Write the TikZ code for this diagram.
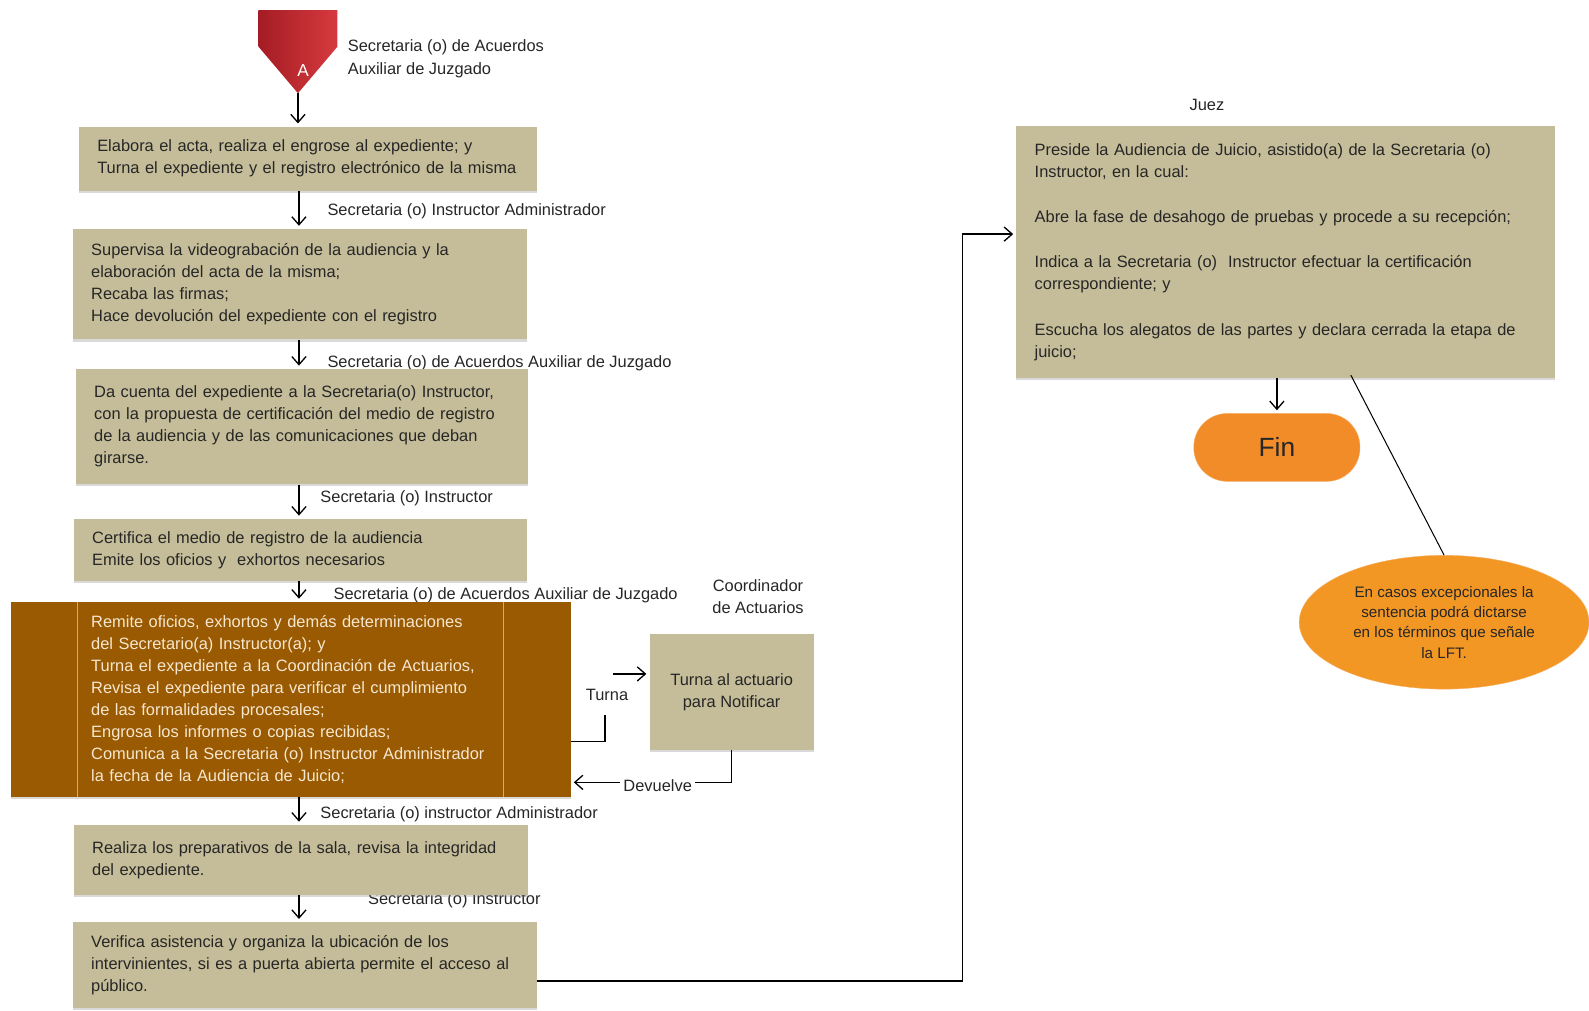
\documentclass[tikz,border=0pt]{standalone}
\usepackage{fontspec}
\setmainfont{Liberation Sans}
\usetikzlibrary{arrows.meta, positioning, calc, shadows, shapes.geometric}

\definecolor{caja}{HTML}{C5BD99}
\definecolor{texto}{HTML}{262626}
\definecolor{cafe}{HTML}{995A02}
\definecolor{cafetxt}{HTML}{F7E7CF}
\definecolor{cafelin}{HTML}{D2AA70}
\definecolor{naranja}{HTML}{F28C28}
\definecolor{rojo}{HTML}{D63A3E}
\definecolor{rojoosc}{HTML}{A51C24}

\begin{document}
\begin{tikzpicture}[x=1pt, y=-1pt,
    >={Straight Barb[length=8pt,width=14pt]},
    flecha/.style={->, line width=1.3pt, shorten >=3pt},
    linea/.style={line width=1.3pt},
    caja/.style={fill=caja, text=texto, align=left, inner xsep=18pt,
      font=\fontsize{16.2}{21.7}\selectfont,
      drop shadow={shadow xshift=0pt, shadow yshift=-2pt, opacity=.3}},
    rol/.style={anchor=west, text=texto, align=left, inner sep=0pt,
      font=\fontsize{16.2}{22}\selectfont},
    term/.style={fill=naranja, draw=naranja!70!white, text=texto}]
  \useasboundingbox (0,0) rectangle (1568,997);

  % conector A
  \shade[left color=rojoosc, right color=rojo]
    (255,10) -- (333,10) -- (333,46) -- (294,92) -- (255,46) -- cycle;
  \node[text=white, font=\fontsize{17}{20}\selectfont] (A) at (299,70) {A};
  \coordinate (tipA) at (294,92);
  \coordinate (ax) at (295,0);

  % roles
  \node[rol] (r0) at (343,58) {Secretaria (o) de Acuerdos\\Auxiliar de Juzgado};
  \node[rol] (r1) at (323,208) {Secretaria (o) Instructor Administrador};
  \node[rol] (r2) at (323,358) {Secretaria (o) de Acuerdos Auxiliar de Juzgado};
  \node[rol] (r3) at (316,492) {Secretaria (o) Instructor};
  \node[rol] (r4) at (329,587) {Secretaria (o) de Acuerdos Auxiliar de Juzgado};
  \node[rol] (r5) at (316,803) {Secretaria (o) instructor Administrador};
  \node[rol] (r6) at (363,888) {Secretaria (o) Instructor};
  \node[rol, anchor=center] (juez) at (1191,104) {Juez};
  \node[rol, anchor=center, align=center] (coord) at (748,589) {Coordinador\\de Actuarios};

  % cajas
  \node[caja, minimum width=452pt, minimum height=63pt, text width=416pt] (b1) at (304,156.5)
    {Elabora el acta, realiza el engrose al expediente; y\\
     Turna el expediente y el registro electrónico de la misma};
  \node[caja, minimum width=448pt, minimum height=109pt, text width=412pt] (b2) at (296,280.5)
    {Supervisa la videograbación de la audiencia y la\\
     elaboración del acta de la misma;\\
     Recaba las firmas;\\
     Hace devolución del expediente con el registro};
  \node[caja, minimum width=446pt, minimum height=114pt, text width=410pt] (b3) at (298,421)
    {Da cuenta del expediente a la Secretaria(o) Instructor,\\
     con la propuesta de certificación del medio de registro\\
     de la audiencia y de las comunicaciones que deban\\
     girarse.};
  \node[caja, minimum width=447pt, minimum height=61pt, text width=411pt] (b4) at (296.5,542.5)
    {Certifica el medio de registro de la audiencia\\
     Emite los oficios y \ exhortos necesarios};
  \node[caja, fill=cafe, text=cafetxt, inner xsep=0pt, minimum width=552pt,
        minimum height=192pt, text width=394pt] (b5) at (287,690)
    {Remite oficios, exhortos y demás determinaciones\\
     del Secretario(a) Instructor(a); y\\
     Turna el expediente a la Coordinación de Actuarios,\\
     Revisa el expediente para verificar el cumplimiento\\
     de las formalidades procesales;\\
     Engrosa los informes o copias recibidas;\\
     Comunica a la Secretaria (o) Instructor Administrador\\
     la fecha de la Audiencia de Juicio;};
  \draw[cafelin, line width=1pt] (76,594) -- (76,786);
  \draw[cafelin, line width=1pt] (497,594) -- (497,786);
  \node[caja, align=center, inner xsep=0pt, minimum width=162pt, minimum height=114pt] (b6) at (722,683)
    {Turna al actuario\\para Notificar};
  \node[caja, minimum width=448pt, minimum height=69pt, text width=412pt] (b7) at (297,848.5)
    {Realiza los preparativos de la sala, revisa la integridad\\
     del expediente.};
  \node[caja, minimum width=458pt, minimum height=85pt, text width=422pt] (b8) at (301,952.5)
    {Verifica asistencia y organiza la ubicación de los\\
     intervinientes, si es a puerta abierta permite el acceso al\\
     público.};
  \node[caja, minimum width=531pt, minimum height=249pt, text width=495pt] (b9) at (1268.5,248.5)
    {Preside la Audiencia de Juicio, asistido(a) de la Secretaria (o)\\
     Instructor, en la cual:\\[23pt]
     Abre la fase de desahogo de pruebas y procede a su recepción;\\[23pt]
     Indica a la Secretaria (o) \ Instructor efectuar la certificación\\
     correspondiente; y\\[23pt]
     Escucha los alegatos de las partes y declara cerrada la etapa de\\
     juicio;};

  \node[term, rounded corners=33pt, minimum width=164pt, minimum height=67pt,
        font=\fontsize{26}{30}\selectfont] (fin) at (1260,441.5) {Fin};
  \node[term, ellipse, fill=naranja!90!yellow, minimum width=286pt, minimum height=132pt,
        align=center, inner sep=0pt, font=\fontsize{15}{20}\selectfont] (nota) at (1425,614)
    {En casos excepcionales la\\sentencia podrá dictarse\\en los términos que señale\\la LFT.};

  % flechas
  \draw[flecha] (tipA) -- (tipA |- b1.north);
  \draw[flecha] (b1.south -| ax) -- (b2.north -| ax);
  \draw[flecha] (b2.south -| ax) -- (b3.north -| ax);
  \draw[flecha] (b3.south -| ax) -- (b4.north -| ax);
  \draw[flecha] (b4.south -| ax) -- (b5.north -| ax);
  \draw[flecha] (b5.south -| ax) -- (b7.north -| ax);
  \draw[flecha] (b7.south -| ax) -- (b8.north -| ax);

  \coordinate (t1) at (597,706);
  \coordinate (t2) at (605,665);
  \draw[linea] ($(b5.east)+(0,42)$) -| (t1);
  \draw[flecha] (t2) -- (b6.west |- t2);
  \node[rol, anchor=center] (turna) at (599,686) {Turna};

  \draw[flecha] (b6.south) |- ($(b5.east)+(0,82)$);
  \node[rol, anchor=center, fill=white, inner xsep=3pt, inner ysep=1pt] (dev) at (649,775) {Devuelve};

  \coordinate (c1) at (950,231);
  \draw[flecha] ($(b8.east)+(0,15.5)$) -| (c1) -- (b9.west |- c1);

  \draw[flecha] (b9.south -| fin) -- (fin.north);
  \draw[line width=1pt] ($(b9.south)+(64.5,-3)$) -- (nota.north);
\end{tikzpicture}
\end{document}
